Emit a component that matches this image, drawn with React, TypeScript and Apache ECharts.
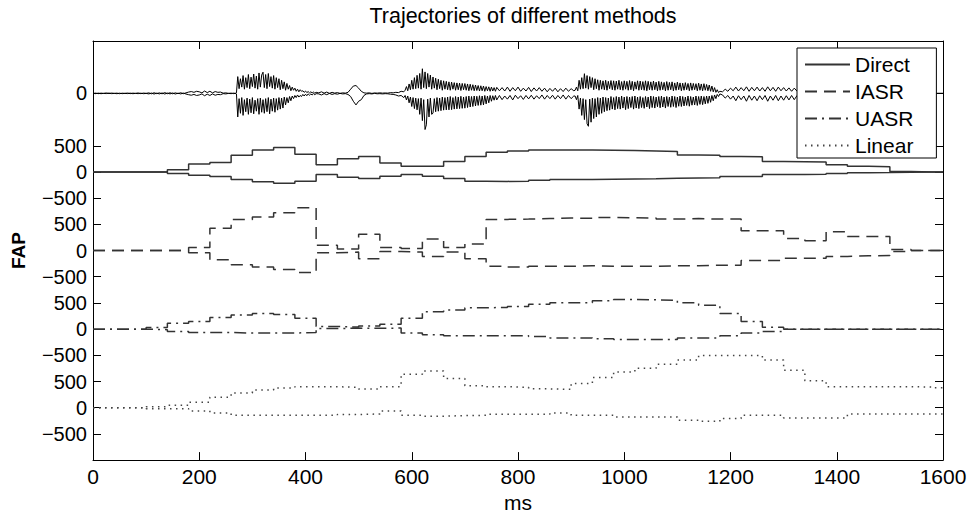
import React, { useEffect, useRef } from 'react';
import * as echarts from 'echarts';

const TITLE = 'Trajectories of different methods';
const X_NAME = 'ms';
const Y_NAME = 'FAP';
const X_MIN = 0;
const X_MAX = 1600;
const X_INTERVAL = 200;
const Y_MIN = -1000;
const Y_MAX = 7000;

// Tick positions on the stacked axis and the labels MATLAB printed there
const Y_TICK_VALUES = [-500, 0, 500, 1000, 1500, 2000, 2500, 3000, 3500, 4000, 4500, 5000, 6000];
const Y_TICK_LABELS = ['−500', '0', '500', '−500', '0', '500', '−500', '0', '500', '−500', '0', '500', '0'];

// Vertical offsets of the stacked traces
const OFFSET_LINEAR = 0;
const OFFSET_UASR = 1500;
const OFFSET_IASR = 3000;
const OFFSET_DIRECT = 4500;
const OFFSET_WAVE = 6000;

const LEGEND_NAMES = ['Direct', 'IASR', 'UASR', 'Linear'];

// Frame start times (ms) of the piecewise-constant trajectories
const FRAME_T = [0, 20, 60, 100, 140, 180, 220, 260, 300, 340, 380, 420, 460, 500, 540, 580, 620, 660, 700, 740,
  780, 820, 860, 900, 940, 980, 1020, 1060, 1100, 1140, 1180, 1220, 1260, 1300, 1340, 1380, 1420, 1460, 1500, 1540, 1580];

const DIRECT_UP = [0, 0, 0, 0, 40, 150, 183, 320, 420, 465, 340, 140, 250, 295, 170, 107, 107, 200, 295, 376,
  400, 420, 420, 420, 415, 410, 400, 390, 325, 320, 295, 290, 200, 195, 190, 137, 107, 100, 10, 0, 0];
const DIRECT_LO = [0, 0, 0, 0, -30, -62, -88, -145, -188, -213, -175, -50, -100, -126, -81, -50, -81, -126, -175, -180,
  -175, -160, -145, -145, -140, -135, -130, -120, -113, -110, -88, -85, -50, -50, -45, -30, -15, -12, -5, 0, 0];

const IASR_UP = [0, 0, 0, 0, 0, 60, 425, 595, 640, 720, 815, 100, 30, 313, 60, 40, 220, 60, 125, 595,
  600, 610, 620, 615, 630, 625, 620, 600, 610, 600, 600, 376, 376, 232, 188, 357, 270, 270, 20, 0, 0];
const IASR_LO = [0, 0, 0, 0, 0, -40, -176, -270, -314, -364, -420, -40, -30, -157, -20, -30, -113, -30, -157, -300,
  -314, -300, -300, -290, -300, -300, -300, -290, -290, -280, -280, -188, -188, -145, -145, -113, -100, -94, -20, 0, 0];

const UASR_UP = [0, 0, 0, 30, 113, 145, 220, 270, 300, 280, 207, 50, 40, 60, 94, 207, 333, 364, 408, 414,
  433, 477, 502, 502, 540, 565, 560, 552, 502, 458, 300, 145, 38, 0, 0, 0, 0, 0, 0, 0, 0];
const UASR_LO = [0, 0, 0, -10, -44, -63, -63, -75, -75, -75, -63, 10, 20, 15, 20, -75, -106, -125, -125, -125,
  -125, -140, -170, -170, -185, -200, -200, -200, -170, -170, -125, -75, -44, 0, 0, 0, 0, 0, 0, 0, 0];

const LINEAR_UP = [0, 0, 0, 20, 45, 105, 200, 282, 338, 376, 400, 400, 390, 357, 400, 640, 702, 557, 420, 400,
  390, 360, 350, 463, 576, 683, 753, 828, 909, 997, 997, 997, 909, 715, 514, 400, 400, 400, 400, 395, 380];
const LINEAR_LO = [0, 0, 0, -19, -19, -63, -100, -145, -145, -145, -145, -145, -130, -119, -63, -145, -163, -150, -145, -126,
  -126, -126, -100, -145, -145, -176, -176, -176, -239, -260, -207, -145, -145, -195, -195, -195, -119, -119, -119, -119, -119];

// Raw trajectory (top trace): read in segments, each with its own start time and sampling step (ms)
const WAVE_SEG_START = [0, 262.5, 425, 587.5, 765, 907.5, 1185];
const WAVE_SEG_STEP = [5, 2.5, 5, 2.5, 5, 2.5, 5];

const WAVE_UP_A = [
  0, 5, -5, 5, 0, 8, -4, 6, 0, 5, -6, 4, 0, 6, -5, 5, 0, 8, -5, 6,
  0, 10, -8, 12, -5, 10, -8, 15, -6, 12, -8, 10, -5, 12, -6, 10, 25, 35, 20, 40,
  30, 10, 45, 15, 40, 10, 35, 20, 25, 5, 10, 0, 5,
];
const WAVE_UP_B = [
  0, 5, 0, 10, 320, 90, 280, 120, 340, 80,
  300, 110, 360, 90, 310, 130, 370, 100, 330, 80,
  390, 120, 350, 405, 110, 360, 90, 380, 130, 320,
  100, 340, 80, 300, 110, 280, 70, 250, 90, 220,
  60, 190, 80, 150, 50, 120, 60, 100, 40, 80,
  30, 70, 40, 50, 20, 45, 15, 35, 10, 30,
  10, 25, 5, 20,
];
const WAVE_UP_C = [
  10, 30, 5, 25, 0, 20, 5, 15, 0, 10, 5, 20, 80, 140, 150, 100, 40, 10, 5, 10,
  0, 8, 5, 10, 5, 8, 5, 15, 10, 20, 15, 40, 30,
];
const WAVE_UP_D = [
  60, 130, 50, 180, 70, 250, 80, 300, 90, 345,
  100, 380, 80, 470, 110, 410, 90, 380, 120, 350,
  80, 313, 100, 290, 70, 270, 90, 250, 60, 240,
  80, 230, 70, 220, 60, 215, 80, 205, 60, 200,
  70, 195, 55, 190, 70, 188, 60, 180, 50, 175,
  60, 165, 50, 160, 55, 150, 45, 145, 50, 140,
  40, 130, 50, 125, 40, 120, 45, 110, 40, 115,
];
const WAVE_UP_E = [
  50, 110, 45, 120, 40, 110, 50, 120, 40, 100, 45, 115, 35, 105, 45, 110, 40, 100, 30, 95,
  40, 100, 30, 90, 35, 100, 40, 90, 50,
];
const WAVE_UP_F = [
  60, 120, 50, 250, 80, 300, 90, 376, 100, 340,
  80, 320, 110, 300, 70, 280, 90, 260, 60, 250,
  80, 240, 70, 250, 60, 230, 90, 245, 70, 240,
  60, 235, 80, 250, 70, 225, 60, 240, 80, 230,
  60, 245, 70, 230, 50, 220, 80, 240, 60, 235,
  70, 225, 60, 240, 50, 230, 70, 220, 60, 235,
  70, 215, 50, 230, 60, 220, 70, 210, 50, 225,
  60, 210, 70, 220, 50, 200, 60, 215, 70, 200,
  50, 195, 60, 205, 70, 190, 50, 200, 60, 190,
  70, 185, 50, 195, 60, 180, 50, 185, 60, 170,
  50, 160, 40, 140, 30, 110, 20, 70, 15, 40,
];
const WAVE_UP_G = [
  30, 80, 40, 100, 50, 120, 45, 110, 50, 125,
  40, 115, 50, 120, 45, 110, 40, 125, 50, 115,
  40, 120, 50, 110, 45, 105, 40, 100, 45, 95,
  35, 100, 40, 90, 35, 85, 30, 80, 30, 70,
  25, 60, 20, 50, 20, 45, 15, 40, 15, 35,
  10, 30, 10, 25, 10, 20, 5, 15, 5, 10,
  5, 5, 0, 0, 0, 0, 0, 0, 0, 0,
  0, 0, 0, 0, 0, 0, 0, 0, 0, 0,
  0, 0, 0, 0,
];

const WAVE_LO_A = [
  0, -5, 5, -6, 0, -4, 6, -5, 0, -6, 4, -5, 0, -4, 5, -6, 0, -5, 4, -6,
  0, -10, 6, -12, 5, -10, 8, -12, 6, -10, 8, -12, 5, -10, 6, -12, -25, -35, -20, -40,
  -30, -10, -45, -15, -40, -10, -35, -20, -25, -5, -10, 0, -5,
];
const WAVE_LO_B = [
  0, -5, 0, -10, -450, -100, -380, -80, -420, -120,
  -350, -90, -400, -110, -370, -80, -390, -130, -340, -100,
  -400, -90, -360, -120, -380, -100, -350, -80, -390, -110,
  -340, -90, -360, -100, -320, -80, -300, -90, -280, -70,
  -220, -80, -180, -60, -140, -50, -100, -40, -80, -30,
  -70, -40, -60, -20, -50, -15, -45, -10, -35, -10,
  -30, -5, -25, -5,
];
const WAVE_LO_C = [
  -10, -30, -5, -25, 0, -20, -5, -15, 0, -10, -5, -20, -60, -150, -220, -150, -120, -40, -10, -5,
  -10, 0, -8, -5, -10, -5, -8, -15, -20, -30, -50, -40, -80,
];
const WAVE_LO_D = [
  -40, -126, -50, -180, -70, -250, -80, -290, -90, -314,
  -100, -400, -90, -520, -120, -690, -600, -110, -450, -90,
  -400, -377, -100, -350, -80, -340, -90, -330, -70, -320,
  -80, -315, -70, -314, -60, -310, -80, -300, -60, -295,
  -70, -290, -55, -285, -70, -282, -60, -270, -50, -260,
  -60, -250, -50, -240, -55, -230, -45, -225, -50, -220,
  -40, -200, -50, -180, -40, -150, -45, -130, -40, -125,
];
const WAVE_LO_E = [
  -40, -120, -50, -110, -40, -125, -35, -100, -45, -115, -40, -105, -35, -110, -45, -100, -30, -110, -40, -100,
  -35, -110, -40, -100, -30, -110, -40, -100, -50,
];
const WAVE_LO_F = [
  -50, -120, -40, -300, -90, -420, -100, -500, -120, -580,
  -628, -110, -550, -90, -480, -100, -450, -80, -400, -90,
  -380, -70, -350, -80, -330, -90, -320, -60, -300, -80,
  -314, -60, -290, -70, -300, -50, -280, -70, -310, -60,
  -290, -70, -270, -60, -300, -50, -280, -70, -290, -60,
  -270, -80, -285, -60, -260, -70, -290, -50, -270, -60,
  -280, -70, -255, -60, -275, -50, -260, -70, -280, -60,
  -250, -70, -265, -50, -250, -60, -270, -70, -245, -50,
  -250, -60, -240, -70, -230, -50, -245, -60, -225, -70,
  -220, -50, -230, -60, -210, -50, -215, -60, -200, -50,
  -190, -50, -170, -40, -140, -30, -100, -20, -60, -10,
];
const WAVE_LO_G = [
  -30, -90, -40, -110, -50, -140, -45, -120, -50, -150,
  -40, -130, -50, -140, -45, -120, -40, -150, -50, -130,
  -40, -140, -50, -130, -45, -125, -40, -120, -45, -110,
  -40, -100, -35, -95, -30, -85, -30, -70, -25, -60,
  -20, -50, -20, -45, -15, -40, -15, -35, -10, -30,
  -10, -25, -10, -20, -5, -15, -5, -10, -5, -5,
  0, 0, 0, 0, 0, 0, 0, 0, 0, 0,
  0, 0, 0, 0, 0, 0, 0, 0, 0, 0,
  0, 0, 0, 0,
];

const WAVE_UP_SEGS = [WAVE_UP_A, WAVE_UP_B, WAVE_UP_C, WAVE_UP_D, WAVE_UP_E, WAVE_UP_F, WAVE_UP_G];
const WAVE_LO_SEGS = [WAVE_LO_A, WAVE_LO_B, WAVE_LO_C, WAVE_LO_D, WAVE_LO_E, WAVE_LO_F, WAVE_LO_G];

const FONT = '"Liberation Sans", Arial, Helvetica, sans-serif';

export default function App() {
  const ref = useRef<HTMLDivElement>(null);

  useEffect(() => {
    if (!ref.current) return;
    const chart = echarts.init(ref.current, null, { renderer: 'svg' });

    const stepData = (vals: number[], offset: number) =>
      FRAME_T.map((t, i) => [t, vals[i] + offset]).concat([[X_MAX, vals[vals.length - 1] + offset]]);
    const waveData = (segs: number[][], offset: number) => {
      const out: number[][] = [];
      segs.forEach((vals, s) => {
        vals.forEach((v, i) => {
          out.push([WAVE_SEG_START[s] + i * WAVE_SEG_STEP[s], v + offset]);
        });
      });
      return out;
    };

    const stepSeries = (name: string, vals: number[], offset: number, color: string, dash: any, width: number) => ({
      type: 'line',
      name,
      data: stepData(vals, offset),
      step: 'end',
      symbol: 'none',
      silent: true,
      lineStyle: { color, width, type: dash },
      itemStyle: { color },
      z: 3,
    });

    const DASH_IASR = [12, 7];
    const DASH_UASR = [12, 5, 2, 5];
    const DASH_LINEAR = [1.5, 4.5];

    const series: any[] = [
      {
        type: 'line', name: 'Raw', data: waveData(WAVE_UP_SEGS, OFFSET_WAVE), symbol: 'none', silent: true,
        lineStyle: { color: '#000', width: 1 }, itemStyle: { color: '#000' }, z: 4,
      },
      {
        type: 'line', name: 'Raw', data: waveData(WAVE_LO_SEGS, OFFSET_WAVE), symbol: 'none', silent: true,
        lineStyle: { color: '#000', width: 1 }, itemStyle: { color: '#000' }, z: 4,
      },
      stepSeries('Direct', DIRECT_UP, OFFSET_DIRECT, '#333', 'solid', 1.5),
      stepSeries('Direct', DIRECT_LO, OFFSET_DIRECT, '#333', 'solid', 1.5),
      stepSeries('IASR', IASR_UP, OFFSET_IASR, '#333', DASH_IASR, 1.5),
      stepSeries('IASR', IASR_LO, OFFSET_IASR, '#333', DASH_IASR, 1.5),
      stepSeries('UASR', UASR_UP, OFFSET_UASR, '#333', DASH_UASR, 1.5),
      stepSeries('UASR', UASR_LO, OFFSET_UASR, '#333', DASH_UASR, 1.5),
      stepSeries('Linear', LINEAR_UP, OFFSET_LINEAR, '#444', DASH_LINEAR, 1.5),
      stepSeries('Linear', LINEAR_LO, OFFSET_LINEAR, '#444', DASH_LINEAR, 1.5),
    ];

    const yLabel = (v: number) => {
      const i = Y_TICK_VALUES.indexOf(v);
      return i >= 0 ? Y_TICK_LABELS[i] : '';
    };

    const axisLineStyle = { color: '#000', width: 1 };

    const option: any = {
      animation: false,
      backgroundColor: '#fff',
      title: {
        text: TITLE,
        left: 518,
        top: 0,
        textAlign: 'center',
        textStyle: { fontSize: 21.5, fontWeight: 'normal', color: '#000', fontFamily: FONT },
      },
      legend: {
        data: LEGEND_NAMES,
        orient: 'vertical',
        left: 797,
        top: 48,
        padding: [6, 23, 2, 7],
        itemWidth: 45,
        itemHeight: 14,
        itemGap: 6,
        backgroundColor: '#fff',
        borderColor: '#000',
        borderWidth: 1,
        borderRadius: 0,
        selectedMode: false,
        itemStyle: { opacity: 0 },
        textStyle: { fontSize: 21, color: '#000', fontFamily: FONT },
        z: 10,
      },
      grid: { left: 93, right: 27, top: 41, bottom: 52, containLabel: false },
      xAxis: [
        {
          type: 'value', position: 'bottom', min: X_MIN, max: X_MAX, interval: X_INTERVAL,
          name: X_NAME, nameLocation: 'middle', nameGap: 28,
          nameTextStyle: { fontSize: 21, color: '#000', fontFamily: FONT },
          axisLine: { show: true, onZero: false, lineStyle: axisLineStyle },
          axisTick: { show: true, inside: true, length: 8, lineStyle: axisLineStyle },
          axisLabel: {
            show: true, fontSize: 21, color: '#000', margin: 6, fontFamily: FONT,
            formatter: (v: number) => String(v),
          },
          splitLine: { show: false },
        },
        {
          type: 'value', position: 'top', min: X_MIN, max: X_MAX, interval: X_INTERVAL,
          axisLine: { show: true, onZero: false, lineStyle: axisLineStyle },
          axisTick: { show: true, inside: true, length: 8, lineStyle: axisLineStyle },
          axisLabel: { show: false },
          splitLine: { show: false },
        },
      ],
      yAxis: [
        {
          type: 'value', position: 'left', min: Y_MIN, max: Y_MAX,
          name: Y_NAME, nameLocation: 'middle', nameGap: 65, nameRotate: 90,
          nameTextStyle: { fontSize: 19, fontWeight: 'bold', color: '#000', fontFamily: FONT },
          axisLine: { show: true, onZero: false, lineStyle: axisLineStyle },
          axisTick: { show: true, inside: true, length: 8, customValues: Y_TICK_VALUES, lineStyle: axisLineStyle },
          axisLabel: {
            show: true, customValues: Y_TICK_VALUES, formatter: yLabel,
            fontSize: 20, color: '#000', margin: 6, fontFamily: FONT,
          },
          splitLine: { show: false },
        },
        {
          type: 'value', position: 'right', min: Y_MIN, max: Y_MAX,
          axisLine: { show: true, onZero: false, lineStyle: axisLineStyle },
          axisTick: { show: true, inside: true, length: 8, customValues: Y_TICK_VALUES, lineStyle: axisLineStyle },
          axisLabel: { show: false },
          splitLine: { show: false },
        },
      ],
      series,
    };

    chart.setOption(option);
    return () => chart.dispose();
  }, []);

  return (
    <div
      ref={ref}
      style={{ position: 'fixed', left: 0, top: 0, width: 970, height: 518, background: '#fff' }}
    />
  );
}
